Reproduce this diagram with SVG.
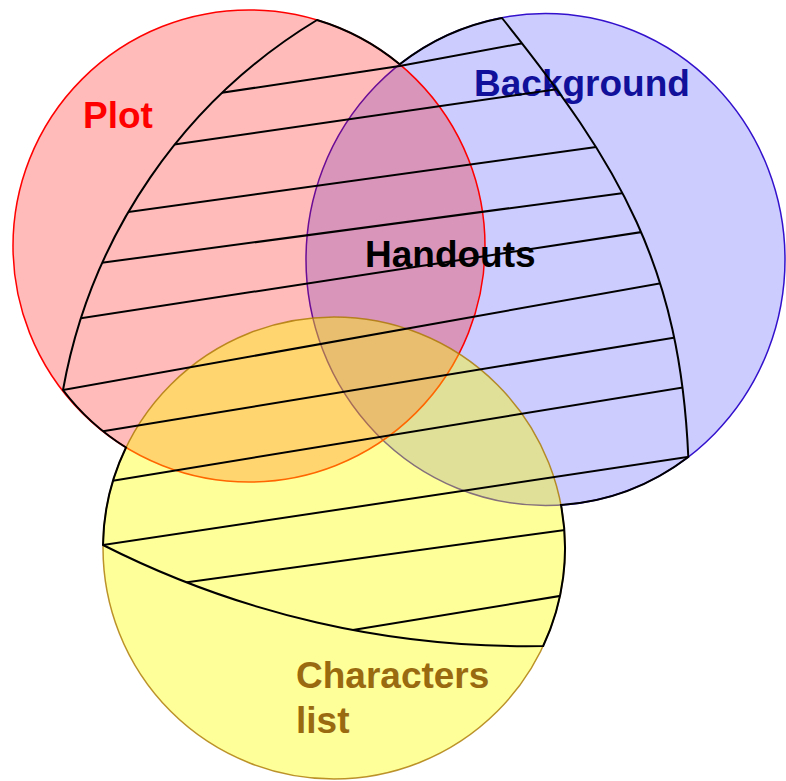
<svg xmlns="http://www.w3.org/2000/svg" width="786" height="781" viewBox="0 0 786 781">
<defs>
<style>
.lbl{font-family:"Liberation Sans",Arial,sans-serif;font-weight:bold;font-size:37px}
.hatch{stroke:#000;stroke-width:2;fill:none}
.outline{fill:none;stroke:#000;stroke-width:2;stroke-linejoin:miter}
</style>
<clipPath id="hclip"><path d="M317,20 A236,236 0 0 1 399.7,64.3 A239.5,246 0 0 1 502,18 C620.8,166.4 680,267.2 688.3,457 A239.5,246 0 0 1 561,505 A231,231 0 0 1 543.2,646 A936,936 0 0 1 103,545 A231,231 0 0 1 126,447.5 A236,236 0 0 1 63,390 A545,545 0 0 1 317,20 Z"/></clipPath>
</defs>
<rect width="786" height="781" fill="#ffffff"/>
<g id="background">
<ellipse cx="545.5" cy="259.5" rx="239.5" ry="246" fill="#0000ff" fill-opacity="0.2" stroke="#3311cc" stroke-width="1.5"/>
<text class="lbl" x="474" y="96" fill="#10109a">Background</text>
</g>
<g id="plot">
<circle cx="249" cy="246" r="236" fill="#ff0000" fill-opacity="0.27" stroke="#ff0000" stroke-width="1.5"/>
<text class="lbl" x="83" y="128" fill="#ff0000">Plot</text>
</g>
<g id="characters">
<circle cx="334" cy="548" r="231" fill="#ffff00" fill-opacity="0.4" stroke="#aa7700" stroke-opacity="0.8" stroke-width="1.5"/>
<text class="lbl" x="296" y="688" fill="#9a6a10">Characters</text>
<text class="lbl" x="296" y="733" fill="#9a6a10">list</text>
</g>
<g id="handouts">
<g clip-path="url(#hclip)" class="hatch">
<path d="M205,95.3 L399.7,66 L540,40"/>
<path d="M150,148 L590,84.5"/>
<path d="M100,216 L625,143"/>
<path d="M70,267 L650,189.4"/>
<path d="M50,323 L670,227.7"/>
<path d="M30,395.9 L690,278"/>
<path d="M80,435 L700,333.4"/>
<path d="M90,484.4 L710,383"/>
<path d="M80,548.5 L710,453.7"/>
<path d="M160,586 L590,526.5"/>
<path d="M330,633.8 L590,591"/>
</g>
<path class="outline" d="M317,20 A236,236 0 0 1 399.7,64.3 A239.5,246 0 0 1 502,18 C620.8,166.4 680,267.2 688.3,457 A239.5,246 0 0 1 561,505 A231,231 0 0 1 543.2,646 A936,936 0 0 1 103,545 A231,231 0 0 1 126,447.5 A236,236 0 0 1 63,390 A545,545 0 0 1 317,20 Z"/>
<text class="lbl" x="365" y="267" fill="#000000">Handouts</text>
</g>
</svg>
